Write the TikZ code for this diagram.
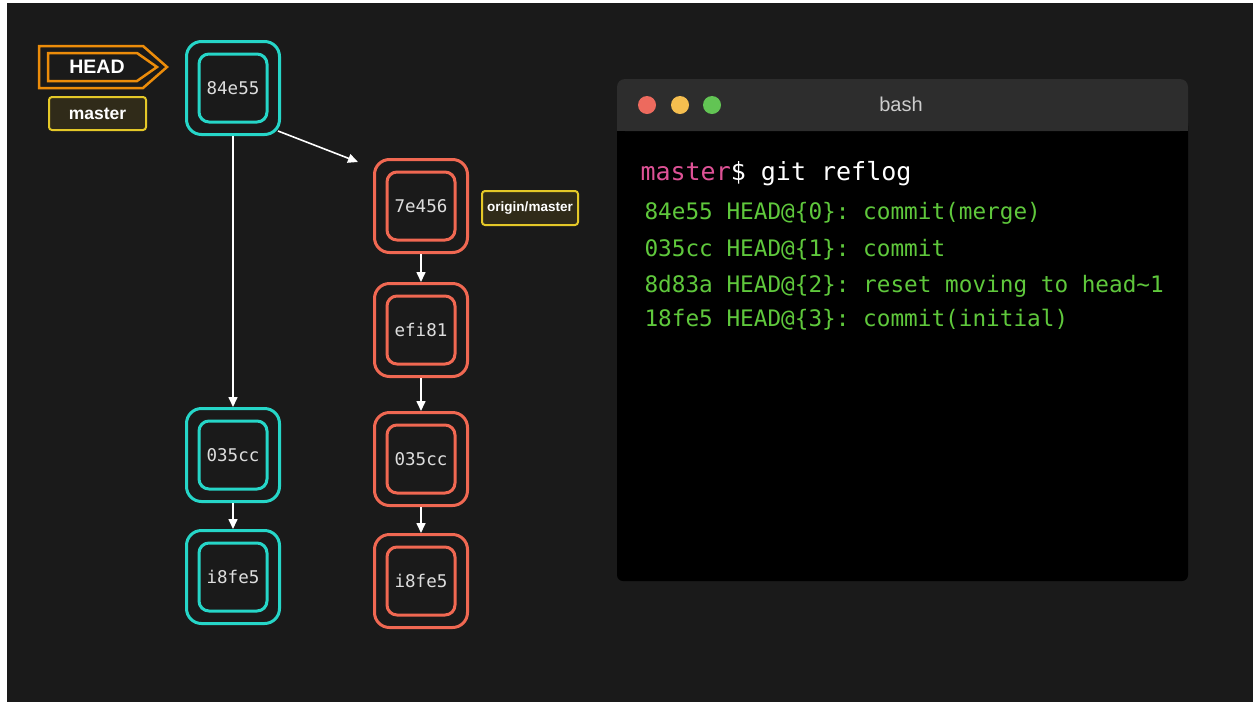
\documentclass[tikz,border=0pt]{standalone}
\usepackage{fontspec}
\setmainfont{Liberation Sans}
\setmonofont{DejaVu Sans Mono}
\usetikzlibrary{arrows.meta}

\definecolor{bgdark}{RGB}{26,26,26}
\definecolor{branchcyan}{RGB}{38,214,200}
\definecolor{branchred}{RGB}{240,104,82}
\definecolor{headorange}{RGB}{236,140,10}
\definecolor{tagyellow}{RGB}{228,200,40}
\definecolor{tagfill}{RGB}{48,43,25}
\definecolor{idtext}{RGB}{222,222,222}
\definecolor{barfill}{RGB}{45,45,45}
\definecolor{promptpink}{RGB}{222,82,150}
\definecolor{loggreen}{RGB}{95,200,60}
\definecolor{dotred}{RGB}{237,106,94}
\definecolor{dotyellow}{RGB}{245,190,79}
\definecolor{dotgreen}{RGB}{98,196,84}
\definecolor{bashgray}{RGB}{205,205,205}

\begin{document}
\begin{tikzpicture}[x=1pt, y=-1pt,
    commit/.style={draw=#1, line width=3pt, rounded corners=15pt, minimum size=93pt,
        inner sep=0pt, text=idtext, font=\ttfamily\fontsize{17.5}{17.5}\selectfont},
    ring/.style={draw=#1, line width=3pt, rounded corners=10pt},
    link/.style={-{Triangle[length=10pt,width=9pt]}, white, line width=1.6pt},
    headline/.style={draw=headorange, line width=2.5pt, line join=miter},
    branchtag/.style={draw=tagyellow, fill=tagfill, line width=2pt, rounded corners=3pt,
        inner sep=0pt, text=white, font=\bfseries\fontsize{17.5}{17.5}\selectfont}]

    % Background
    \fill[white] (0,0) rectangle (1253,702);
    \fill[bgdark] (7,3) rectangle (1253,702);

    % HEAD pointer (double outline)
    \draw[headline] (39,46) -- (143,46) -- (167,67) -- (143,88) -- (39,88) -- cycle;
    \draw[headline] (48,53) -- (137,53) -- (157,67) -- (137,81) -- (48,81) -- cycle;
    \node[text=white, font=\bfseries\fontsize{19.5}{19.5}\selectfont] (head) at (97,67) {HEAD};

    % Branch labels
    \node[branchtag, minimum width=97pt, minimum height=33pt] (master) at (97.5,113.5) {master};
    \node[branchtag, minimum width=96pt, minimum height=34pt, font=\bfseries\fontsize{13.5}{13.5}\selectfont]
        (origin) at (530,208) {origin/master};

    % Local commits (cyan)
    \node[commit=branchcyan] (c84e55) at (233,88) {84e55};
    \node[commit=branchcyan] (c035cc) at (233,455) {035cc};
    \node[commit=branchcyan] (ci8fe5) at (233,577) {i8fe5};

    % Remote commits (red)
    \node[commit=branchred] (r7e456) at (421,206) {7e456};
    \node[commit=branchred] (refi81) at (421,330) {efi81};
    \node[commit=branchred] (r035cc) at (421,459) {035cc};
    \node[commit=branchred] (ri8fe5) at (421,581) {i8fe5};

    % Inner rings
    \foreach \n/\c in {c84e55/branchcyan, c035cc/branchcyan, ci8fe5/branchcyan,
        r7e456/branchred, refi81/branchred, r035cc/branchred, ri8fe5/branchred} {
        \draw[ring=\c] ([shift={(-34,-34)}]\n.center) rectangle ([shift={(34,34)}]\n.center);
    }

    % Parent links
    \coordinate (merge) at (358,162);
    \draw[link] (c84e55) -- (c035cc);
    \draw[link] (c035cc) -- (ci8fe5);
    \draw[link] ([shift={(-3,-5)}]c84e55.south east) -- (merge);
    \foreach \a/\b in {r7e456/refi81, refi81/r035cc, r035cc/ri8fe5} {
        \draw[link] (\a) -- (\b);
    }

    % Terminal window
    \fill[black, rounded corners=6pt] (617,120) rectangle (1188,581);
    \fill[barfill, rounded corners=8pt] (617,79) rectangle (1188,131);
    \fill[barfill] (617,118) rectangle (1188,131);
    \foreach \x/\c in {647/dotred, 680/dotyellow, 712/dotgreen} {
        \fill[\c] (\x,105) circle (9pt);
    }
    \node[text=bashgray, font=\fontsize{20}{20}\selectfont] (title) at (901,104) {bash};

    % Reflog output
    \node[anchor=west, text=white, font=\ttfamily\fontsize{25}{25}\selectfont] (prompt) at (637,174)
        {\textcolor{promptpink}{master}\$ git reflog};
    \foreach \i/\y/\t in {0/213/{84e55 HEAD@\{0\}: commit(merge)},
        1/250/{035cc HEAD@\{1\}: commit},
        2/286/{8d83a HEAD@\{2\}: reset moving to head\textasciitilde1},
        3/320/{18fe5 HEAD@\{3\}: commit(initial)}} {
        \node[anchor=west, text=loggreen, font=\ttfamily\fontsize{22.7}{22.7}\selectfont] (log\i) at (641,\y) {\t};
    }
\end{tikzpicture}
\end{document}
